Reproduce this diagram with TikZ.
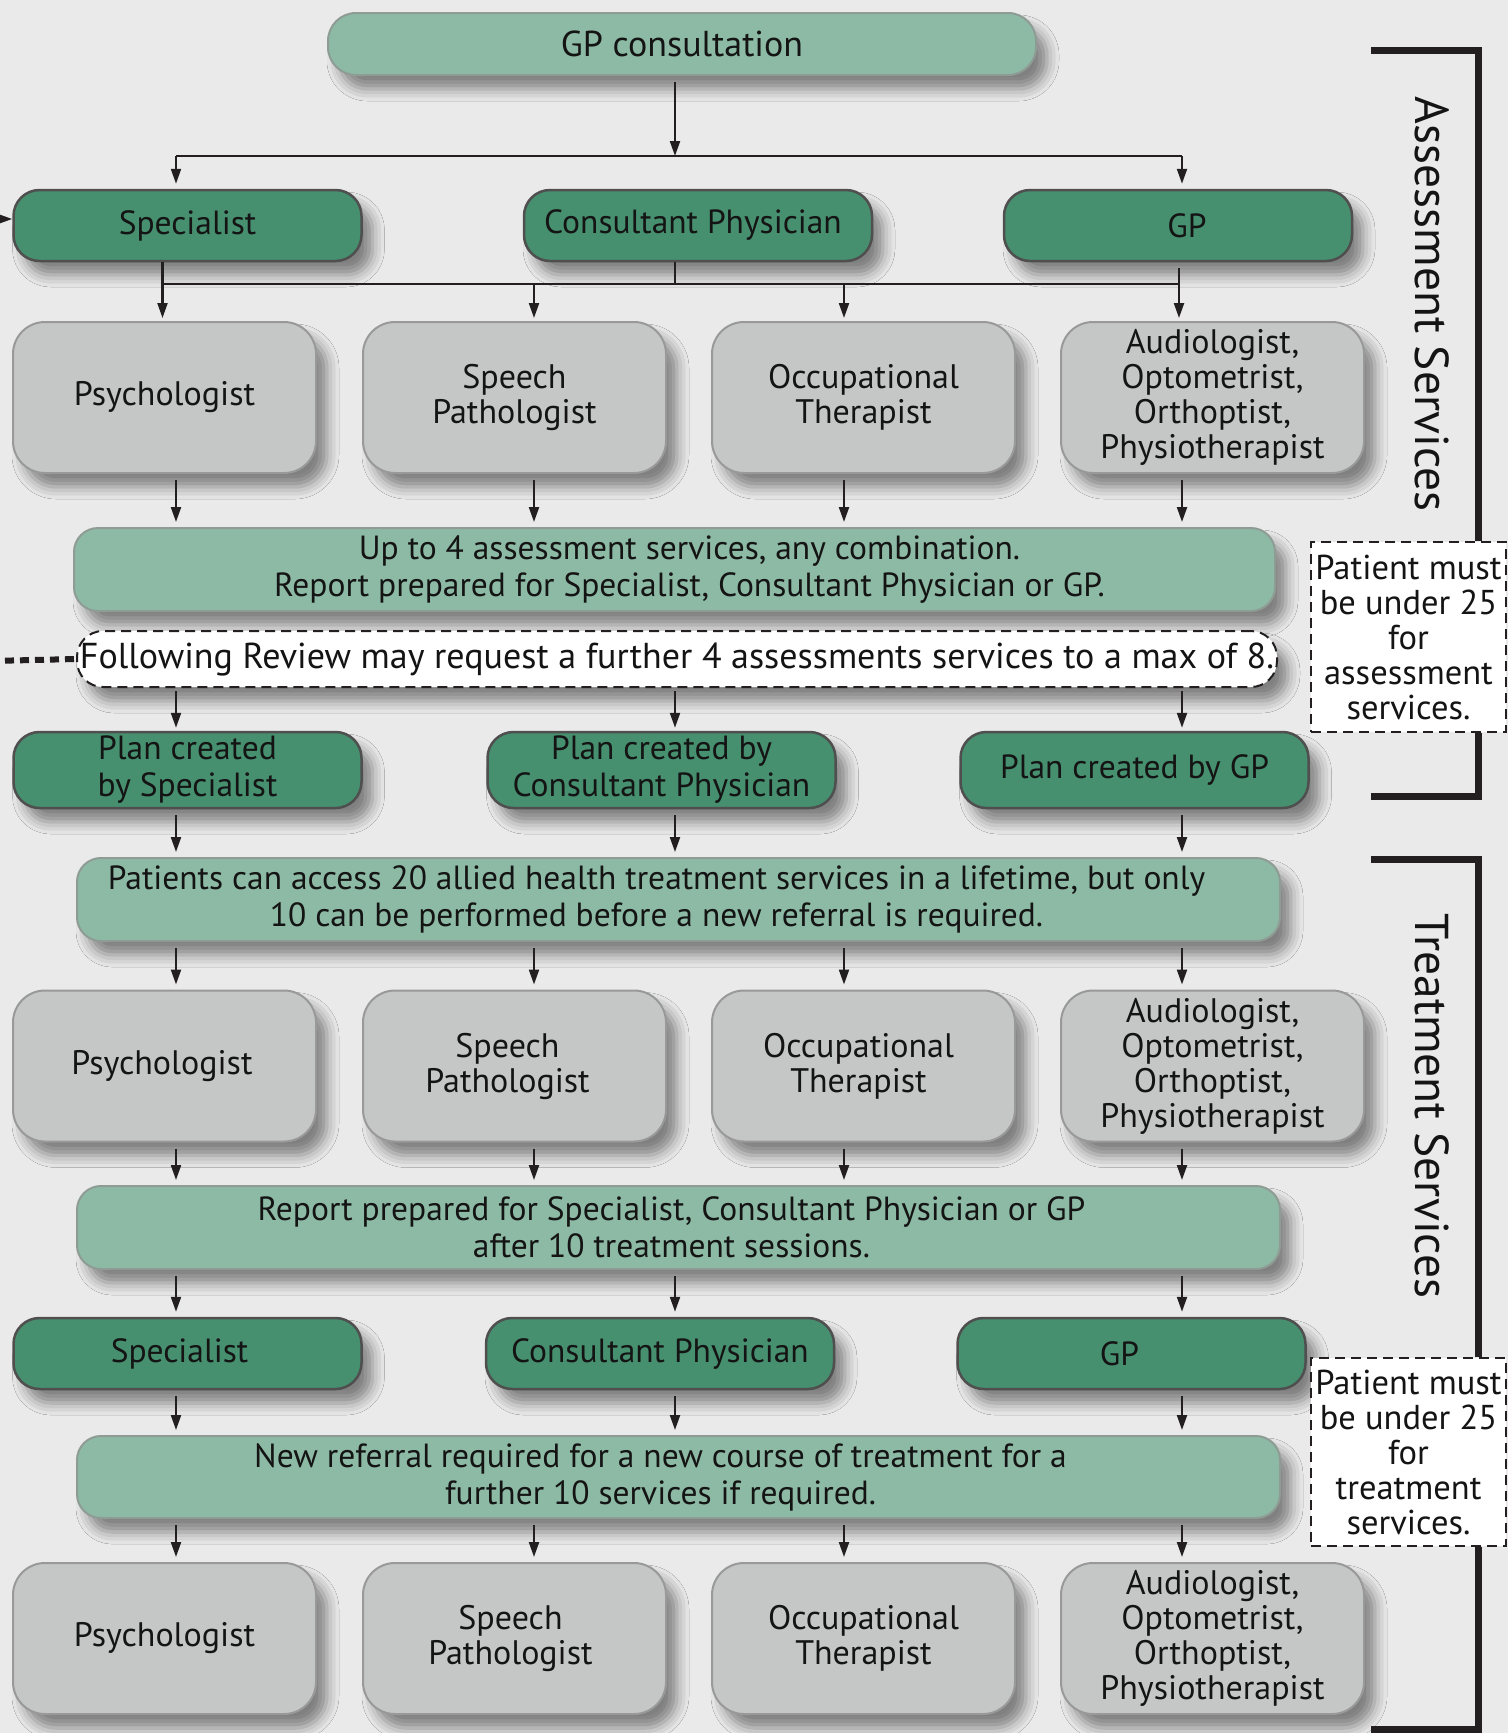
\documentclass[tikz,border=0pt]{standalone}
\usepackage{fontspec}
\setmainfont{PT Sans}
\usetikzlibrary{arrows.meta,shadows.blur}
\definecolor{cBG}{HTML}{EAEAEA}
\definecolor{cDG}{HTML}{468F6F}
\definecolor{cDGl}{HTML}{4F4F4F}
\definecolor{cLG}{HTML}{8DBAA5}
\definecolor{cLGl}{HTML}{8E9C95}
\definecolor{cGY}{HTML}{C5C6C6}
\definecolor{cGYl}{HTML}{999999}
\definecolor{cLN}{HTML}{231F20}
\definecolor{cTX}{HTML}{141414}
\begin{document}
\begin{tikzpicture}[x=1pt,y=-1pt,
  every node/.style={font=\fontsize{34}{35}\selectfont, text=cTX, align=center, inner sep=0pt},
  sh/.style={blur shadow={shadow xshift=11pt, shadow yshift=-14pt, shadow blur radius=12pt, shadow opacity=45}},
  dgbox/.style={sh, fill=cDG, draw=cDGl, line width=2.5pt, rounded corners=26pt, minimum width=348pt, minimum height=71pt, font=\fontsize{33.5}{37}\selectfont},
  lgbox/.style={sh, fill=cLG, draw=cLGl, line width=2pt, rounded corners=24pt, minimum width=1203pt, minimum height=83pt, font=\fontsize{33.5}{37}\selectfont},
  gybox/.style={sh, fill=cGY, draw=cGYl, line width=2pt, rounded corners=32pt, minimum width=303pt, minimum height=151pt, font=\fontsize{34}{35}\selectfont},
  revbox/.style={sh, fill=white, draw=cLN, line width=2pt, dash pattern=on 10pt off 6pt, rounded corners=26pt, minimum width=1200pt, minimum height=56pt, font=\fontsize{36}{38}\selectfont},
  notebox/.style={fill=white, draw=cLN, line width=2pt, dash pattern=on 10pt off 6pt, minimum width=195pt, font=\fontsize{34.5}{35}\selectfont},
  arr/.style={-{Triangle[length=15pt,width=10pt]}, line width=2.2pt, draw=cLN, shorten <=6pt, shorten >=5pt},
  ln/.style={line width=2.2pt, draw=cLN},
  brk/.style={line width=7pt, draw=cLN},
  side/.style={rotate=-90, font=\fontsize{47.5}{50}\selectfont}]
\fill[cBG] (0,0) rectangle (1508,1733);
\useasboundingbox (0,0) rectangle (1508,1733);

% column coordinates
\coordinate (k1) at (176,0);
\coordinate (k2) at (534,0);
\coordinate (k3) at (844,0);
\coordinate (k4) at (1182,0);
\coordinate (km) at (675,0);
\coordinate (kb1) at (162.5,0);
\coordinate (kb4) at (1179,0);
\coordinate (busA) at (0,156);
\coordinate (busB) at (0,284);

% nodes
\node[lgbox, minimum width=708pt, minimum height=62pt, rounded corners=28pt, font=\fontsize{36}{38}\selectfont] (gpc) at (682,44) {GP consultation};

\node[dgbox] (spec1) at (187.5,225.5) {Specialist};
\node[dgbox] (cons1) at (698,225.5) {\hspace*{-10pt}Consultant Physician};
\node[dgbox] (gp1) at (1178,225.5) {\hspace*{18pt}GP};

\node[gybox] (psy1) at (164.5,397.5) {Psychologist};
\node[gybox] (spp1) at (514.5,397.5) {Speech\\Pathologist};
\node[gybox] (ot1) at (863.5,397.5) {Occupational\\Therapist};
\node[gybox] (aud1) at (1212.5,397.5) {Audiologist,\\Optometrist,\\Orthoptist,\\Physiotherapist};

\node[lgbox, minimum width=1201pt] (up4) at (674.5,569.5) {\hspace*{30pt}Up to 4 assessment services, any combination.\\\hspace*{30pt}Report prepared for Specialist, Consultant Physician or GP.};
\node[revbox] (rev) at (677,659) {Following Review may request a further 4 assessments services to a max of 8.};

\node[dgbox, minimum height=76pt] (plan1) at (187.5,770) {Plan created\\by Specialist};
\node[dgbox, minimum height=76pt] (plan2) at (661.5,770) {Plan created by\\Consultant Physician};
\node[dgbox, minimum height=76pt] (plan3) at (1134.5,770) {Plan created by GP};

\node[lgbox] (pat) at (678.5,899.5) {\hspace*{-44pt}Patients can access 20 allied health treatment services in a lifetime, but only\\\hspace*{-44pt}10 can be performed before a new referral is required.};

\node[gybox] (psy2) at (164.5,1066) {\hspace*{-5pt}Psychologist};
\node[gybox] (spp2) at (514.5,1066) {\hspace*{-14pt}Speech\\\hspace*{-14pt}Pathologist};
\node[gybox] (ot2) at (863.5,1066) {\hspace*{-10pt}Occupational\\\hspace*{-10pt}Therapist};
\node[gybox] (aud2) at (1212.5,1066) {Audiologist,\\Optometrist,\\Orthoptist,\\Physiotherapist};

\node[lgbox] (rep) at (678.5,1227.5) {\hspace*{-14pt}Report prepared for Specialist, Consultant Physician or GP\\\hspace*{-14pt}after 10 treatment sessions.};

\node[dgbox] (spec2) at (187.5,1353.5) {\hspace*{-16pt}Specialist};
\node[dgbox] (cons2) at (660,1353.5) {Consultant Physician};
\node[dgbox] (gp2) at (1131.5,1353.5) {\hspace*{-24pt}GP};

\node[lgbox, minimum height=82pt] (newref) at (678.5,1477) {\hspace*{-36pt}New referral required for a new course of treatment for a\\\hspace*{-36pt}further 10 services if required.};

\node[gybox] (psy3) at (164.5,1638.5) {Psychologist};
\node[gybox] (spp3) at (514.5,1638.5) {\hspace*{-8pt}Speech\\\hspace*{-8pt}Pathologist};
\node[gybox] (ot3) at (863.5,1638.5) {Occupational\\Therapist};
\node[gybox] (aud3) at (1212.5,1638.5) {Audiologist,\\Optometrist,\\Orthoptist,\\Physiotherapist};

% side notes
\node[notebox, minimum height=190pt] (pm1) at (1408.5,637) {Patient must\\be under 25\\for\\assessment\\services.};
\node[notebox, minimum height=188pt] (pm2) at (1408.5,1452) {Patient must\\be under 25\\for\\treatment\\services.};
\node[side] (lblA) at (1432,304) {Assessment Services};
\node[side] (lblT) at (1432,1106) {Treatment Services};

% brackets
\draw[brk] (1371,50) -- (1478,50) -- (pm1.north -| 1478,0);
\draw[brk] (pm1.south -| 1478,0) -- (1478,796) -- (1371,796);
\draw[brk] (1371,859) -- (1478,859) -- (pm2.north -| 1478,0);
\draw[brk] (pm2.south -| 1478,0) -- (1478,1729) -- (1371,1729);

% connectors: top
\draw[arr, shorten >=0pt] (gpc.south -| km) -- (km |- busA);
\draw[ln] (k1 |- busA) -- (k4 |- busA);
\draw[arr, shorten <=0pt] (k1 |- busA) -- (spec1.north -| k1);
\draw[arr, shorten <=0pt] (k4 |- busA) -- (gp1.north -| k4);

% bus B
\draw[arr, shorten <=0pt, shorten >=3pt] (spec1.south -| kb1) -- (psy1.north -| kb1);
\draw[ln] (cons1.south -| km) -- (km |- busB);
\draw[arr, shorten >=3pt] (gp1.south -| kb4) -- (aud1.north -| kb4);
\draw[ln] (kb1 |- busB) -- (kb4 |- busB);
\draw[arr, shorten <=0pt, shorten >=3pt] (k2 |- busB) -- (spp1.north -| k2);
\draw[arr, shorten <=0pt, shorten >=3pt] (k3 |- busB) -- (ot1.north -| k3);

% row 1 gray to up4
\draw[arr] (psy1.south -| k1) -- (up4.north -| k1);
\draw[arr] (spp1.south -| k2) -- (up4.north -| k2);
\draw[arr] (ot1.south -| k3) -- (up4.north -| k3);
\draw[arr] (aud1.south -| k4) -- (up4.north -| k4);

% review to plans
\draw[arr, shorten <=3pt, shorten >=3pt] (rev.south -| k1) -- (plan1.north -| k1);
\draw[arr, shorten <=3pt, shorten >=3pt] (rev.south -| km) -- (plan2.north -| km);
\draw[arr, shorten <=3pt, shorten >=3pt] (rev.south -| k4) -- (plan3.north -| k4);

% plans to pat
\draw[arr] (plan1.south -| k1) -- (pat.north -| k1);
\draw[arr] (plan2.south -| km) -- (pat.north -| km);
\draw[arr] (plan3.south -| k4) -- (pat.north -| k4);

% pat to gray 2
\draw[arr] (pat.south -| k1) -- (psy2.north -| k1);
\draw[arr] (pat.south -| k2) -- (spp2.north -| k2);
\draw[arr] (pat.south -| k3) -- (ot2.north -| k3);
\draw[arr] (pat.south -| k4) -- (aud2.north -| k4);

% gray 2 to rep
\draw[arr] (psy2.south -| k1) -- (rep.north -| k1);
\draw[arr] (spp2.south -| k2) -- (rep.north -| k2);
\draw[arr] (ot2.south -| k3) -- (rep.north -| k3);
\draw[arr] (aud2.south -| k4) -- (rep.north -| k4);

% rep to dark 2
\draw[arr] (rep.south -| k1) -- (spec2.north -| k1);
\draw[arr] (rep.south -| km) -- (cons2.north -| km);
\draw[arr] (rep.south -| k4) -- (gp2.north -| k4);

% dark 2 to newref
\draw[arr] (spec2.south -| k1) -- (newref.north -| k1);
\draw[arr] (cons2.south -| km) -- (newref.north -| km);
\draw[arr] (gp2.south -| k4) -- (newref.north -| k4);

% newref to gray 3
\draw[arr] (newref.south -| k1) -- (psy3.north -| k1);
\draw[arr] (newref.south -| k2) -- (spp3.north -| k2);
\draw[arr] (newref.south -| k3) -- (ot3.north -| k3);
\draw[arr] (newref.south -| k4) -- (aud3.north -| k4);

% left edge pieces
\coordinate (ldot) at (-10,661);
\draw[line width=6pt, draw=cLN, dash pattern=on 9pt off 6pt] (ldot) -- (rev.west);
\coordinate (larr) at (-20,219);
\draw[arr, shorten <=0pt, shorten >=0pt] (larr) -- (larr -| spec1.west);
\end{tikzpicture}
\end{document}
